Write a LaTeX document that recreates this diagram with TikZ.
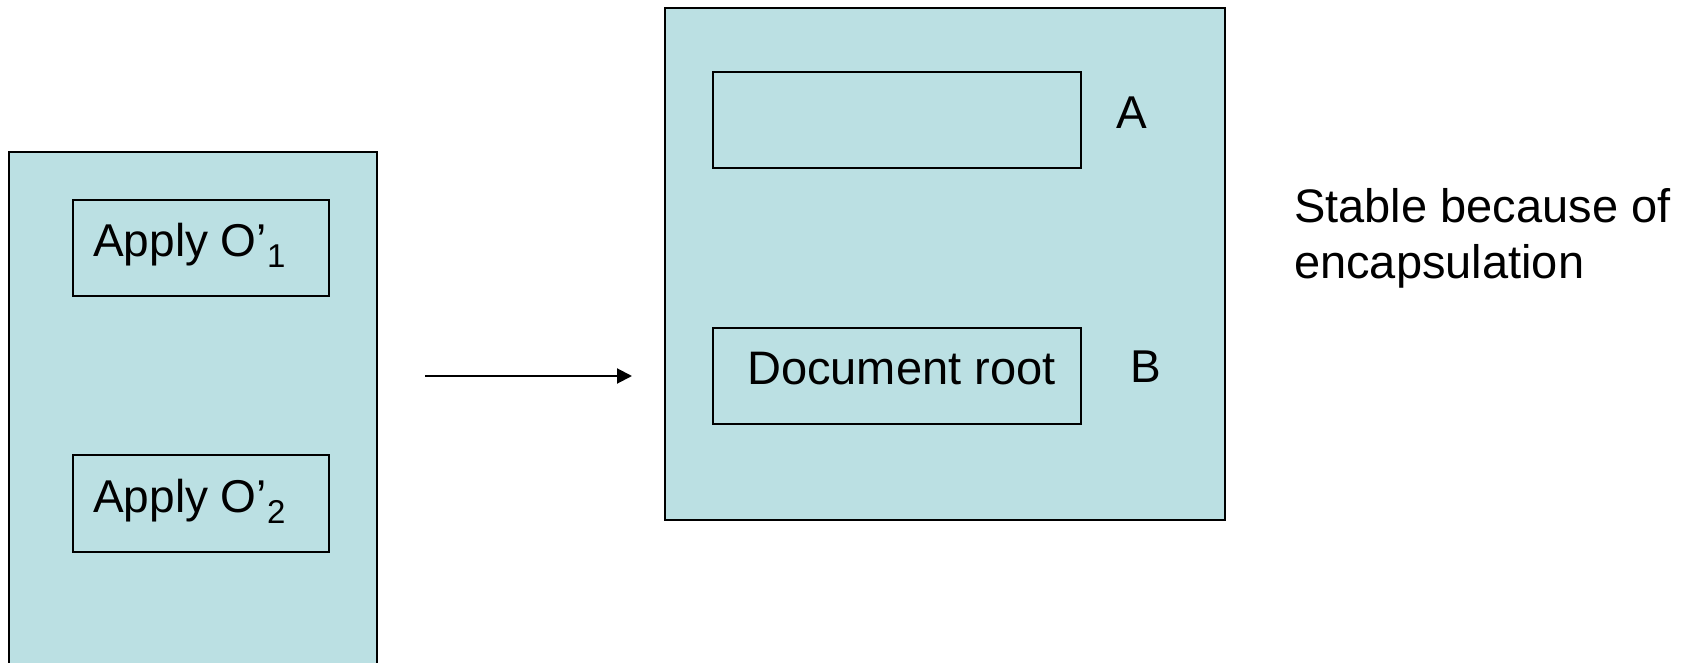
\documentclass[tikz,border=0pt]{standalone}
\usepackage{fontspec}
\setmainfont{Liberation Sans}
\usetikzlibrary{arrows.meta}
\definecolor{boxfill}{RGB}{187,224,227}
\tikzset{
  outerbox/.style={draw=black, fill=boxfill, line width=2pt, inner sep=0pt, rectangle},
  innerbox/.style={draw=black, fill=boxfill, line width=1.8pt, inner sep=0pt, rectangle},
  lbl/.style={anchor=base west, inner sep=0pt, font=\fontsize{46}{55}\selectfont},
  conn/.style={line width=2pt, -{Triangle[length=15pt,width=15pt]}}
}
\newcommand{\subsc}[1]{\raisebox{-11pt}{\fontsize{33}{33}\selectfont #1}}
\begin{document}
\begin{tikzpicture}[x=1pt,y=-1pt]
\useasboundingbox (0,0) rectangle (1692,663);
\clip (0,0) rectangle (1692,663);
% left panel
\node[outerbox, minimum width=368pt, minimum height=523pt] (left) at (193,413.5) {};
\node[innerbox, minimum width=256pt, minimum height=96pt] (app1) at (201,248) {};
\node[innerbox, minimum width=256pt, minimum height=97pt] (app2) at (201,503.5) {};
\node[lbl] (app1t) at (93,256) {Apply O’\subsc{1}};
\node[lbl] (app2t) at (93,512) {Apply O’\subsc{2}};
% arrow
\coordinate (as) at (425,376);
\coordinate (ae) at (632,376);
\draw[conn] (as) -- (ae);
% right panel
\node[outerbox, minimum width=560pt, minimum height=512pt] (right) at (945,263.7) {};
\node[innerbox, minimum width=368.5pt, minimum height=96pt] (boxA) at (897,119.8) {};
\node[innerbox, minimum width=368.5pt, minimum height=96pt] (boxB) at (897,376) {};
\node[lbl, font=\fontsize{47}{55}\selectfont] (doct) at (747,384) {Document root};
\node[lbl] (labA) at (1116,128.3) {A};
\node[lbl] (labB) at (1130.6,382.7) {B};
% note
\node[lbl, font=\fontsize{47}{55}\selectfont] (note1) at (1294,222.7) {Stable because of};
\node[lbl, font=\fontsize{47}{55}\selectfont] (note2) at (1294,278) {encapsulation};
\end{tikzpicture}
\end{document}
